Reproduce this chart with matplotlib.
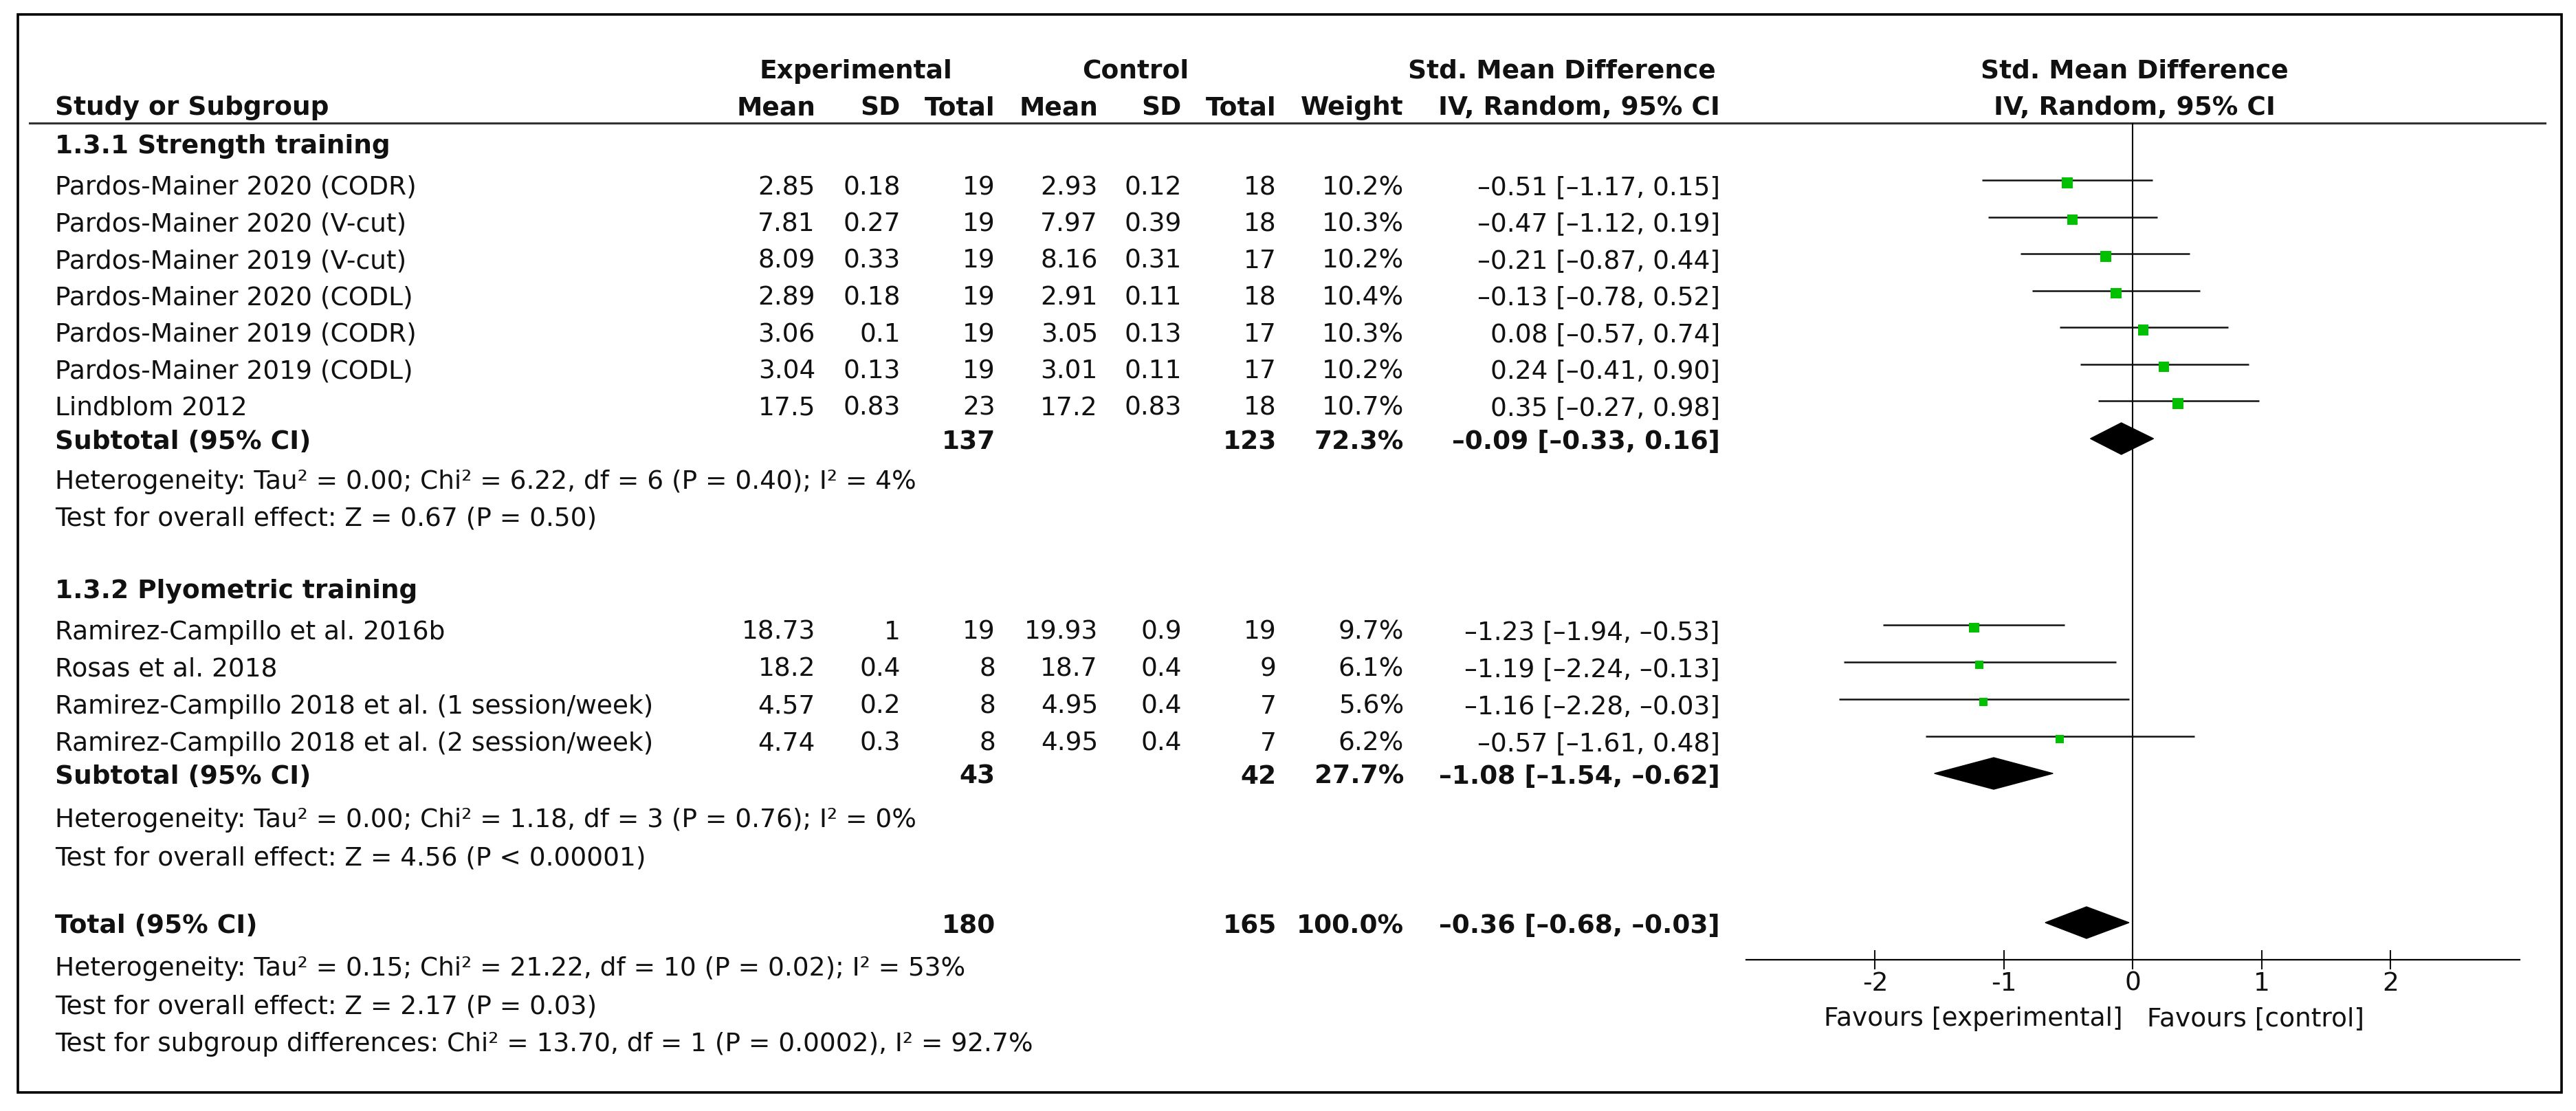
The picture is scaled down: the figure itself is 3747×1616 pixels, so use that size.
import matplotlib
matplotlib.use('Agg')
import matplotlib.pyplot as plt
from matplotlib.patches import Polygon, Rectangle

plt.rcParams['font.family'] = 'DejaVu Sans'
plt.rcParams['axes.unicode_minus'] = False

# --- data -------------------------------------------------------------
g1_title = '1.3.1 Strength training'
g1_names = ['Pardos-Mainer 2020 (CODR)', 'Pardos-Mainer 2020 (V-cut)',
            'Pardos-Mainer 2019 (V-cut)', 'Pardos-Mainer 2020 (CODL)',
            'Pardos-Mainer 2019 (CODR)', 'Pardos-Mainer 2019 (CODL)',
            'Lindblom 2012']
g1_exp_mean = ['2.85', '7.81', '8.09', '2.89', '3.06', '3.04', '17.5']
g1_exp_sd = ['0.18', '0.27', '0.33', '0.18', '0.1', '0.13', '0.83']
g1_exp_n = [19, 19, 19, 19, 19, 19, 23]
g1_ctl_mean = ['2.93', '7.97', '8.16', '2.91', '3.05', '3.01', '17.2']
g1_ctl_sd = ['0.12', '0.39', '0.31', '0.11', '0.13', '0.11', '0.83']
g1_ctl_n = [18, 18, 17, 18, 17, 17, 18]
g1_weight = [10.2, 10.3, 10.2, 10.4, 10.3, 10.2, 10.7]
g1_smd = [-0.51, -0.47, -0.21, -0.13, 0.08, 0.24, 0.35]
g1_lo = [-1.17, -1.12, -0.87, -0.78, -0.57, -0.41, -0.27]
g1_hi = [0.15, 0.19, 0.44, 0.52, 0.74, 0.90, 0.98]
g1_sub = [-0.09, -0.33, 0.16]
g1_sub_n = [137, 123]
g1_sub_weight = 72.3
g1_het = 'Heterogeneity: Tau² = 0.00; Chi² = 6.22, df = 6 (P = 0.40); I² = 4%'
g1_test = 'Test for overall effect: Z = 0.67 (P = 0.50)'

g2_title = '1.3.2 Plyometric training'
g2_names = ['Ramirez-Campillo et al. 2016b', 'Rosas et al. 2018',
            'Ramirez-Campillo 2018 et al. (1 session/week)',
            'Ramirez-Campillo 2018 et al. (2 session/week)']
g2_exp_mean = ['18.73', '18.2', '4.57', '4.74']
g2_exp_sd = ['1', '0.4', '0.2', '0.3']
g2_exp_n = [19, 8, 8, 8]
g2_ctl_mean = ['19.93', '18.7', '4.95', '4.95']
g2_ctl_sd = ['0.9', '0.4', '0.4', '0.4']
g2_ctl_n = [19, 9, 7, 7]
g2_weight = [9.7, 6.1, 5.6, 6.2]
g2_smd = [-1.23, -1.19, -1.16, -0.57]
g2_lo = [-1.94, -2.24, -2.28, -1.61]
g2_hi = [-0.53, -0.13, -0.03, 0.48]
g2_sub = [-1.08, -1.54, -0.62]
g2_sub_n = [43, 42]
g2_sub_weight = 27.7
g2_het = 'Heterogeneity: Tau² = 0.00; Chi² = 1.18, df = 3 (P = 0.76); I² = 0%'
g2_test = 'Test for overall effect: Z = 4.56 (P < 0.00001)'

total = [-0.36, -0.68, -0.03]
total_n = [180, 165]
total_weight = 100.0
total_notes = ['Heterogeneity: Tau² = 0.15; Chi² = 21.22, df = 10 (P = 0.02); I² = 53%',
               'Test for overall effect: Z = 2.17 (P = 0.03)',
               'Test for subgroup differences: Chi² = 13.70, df = 1 (P = 0.0002), I² = 92.7%']

xticks = [-2, -1, 0, 1, 2]

# --- layout (pixels) ---------------------------------------------------
W, H = 3748, 1616
FS = 27
CAP = 15  # half cap height, centre -> baseline
col_x = {'em': 1186, 'esd': 1310, 'en': 1448, 'cm': 1597, 'csd': 1719,
         'cn': 1857, 'w': 2042, 'ci': 2502}
name_x = 80

g1_head_y = 208
g1_rows_y = [268 + 53.5 * i for i in range(len(g1_names))]
g1_sub_y = 638
g1_notes_y = [696, 750]
g2_head_y = 855
g2_rows_y = [915 + 54 * i for i in range(len(g2_names))]
g2_sub_y = 1125
g2_notes_y = [1188, 1243]
tot_y = 1342
tot_notes_y = [1404, 1459, 1514]

rule_y = 179
axis_y = 1396
ax_left, ax_right = 2540, 3665
px_per_unit = (ax_right - ax_left) / 6.0


def dash(s):
    return s.replace('-', '\u2013')


def ci_text(e, lo, hi):
    return dash(f'{e:.2f} [{lo:.2f}, {hi:.2f}]')


fig = plt.figure(figsize=(W / 100, H / 100), dpi=100)
ax = fig.add_axes([0, 0, 1, 1])
ax.set_xlim(0, W)
ax.set_ylim(H, 0)
ax.axis('off')


def txt(x, yc, s, ha='left', bold=False):
    ax.text(x, yc + CAP, s, ha=ha, va='baseline', fontsize=FS,
            fontweight='bold' if bold else 'normal', color='#111111')


# frame and header rule
ax.add_patch(Rectangle((26, 21), 3700, 1568, fill=False, lw=2.6, ec='black'))
ax.plot([43, 3702], [rule_y, rule_y], color='#333333', lw=2.2)

# headers
txt(1245, 99, 'Experimental', ha='center', bold=True)
txt(1652, 99, 'Control', ha='center', bold=True)
txt(2272, 99, 'Std. Mean Difference', ha='center', bold=True)
txt(3105, 99, 'Std. Mean Difference', ha='center', bold=True)
txt(name_x, 152, 'Study or Subgroup', bold=True)
for key, lab in [('em', 'Mean'), ('esd', 'SD'), ('en', 'Total'), ('cm', 'Mean'),
                 ('csd', 'SD'), ('cn', 'Total'), ('w', 'Weight'),
                 ('ci', 'IV, Random, 95% CI')]:
    txt(col_x[key], 152, lab, ha='right', bold=True)
txt(3105, 152, 'IV, Random, 95% CI', ha='center', bold=True)


def study_rows(names, em, esd, en, cm, csd, cn, w, smd, lo, hi, ys):
    for i, y in enumerate(ys):
        txt(name_x, y, names[i])
        txt(col_x['em'], y, em[i], ha='right')
        txt(col_x['esd'], y, esd[i], ha='right')
        txt(col_x['en'], y, str(en[i]), ha='right')
        txt(col_x['cm'], y, cm[i], ha='right')
        txt(col_x['csd'], y, csd[i], ha='right')
        txt(col_x['cn'], y, str(cn[i]), ha='right')
        txt(col_x['w'], y, f'{w[i]:.1f}%', ha='right')
        txt(col_x['ci'], y, ci_text(smd[i], lo[i], hi[i]), ha='right')


def summary_row(label, y, est, n, w):
    txt(name_x, y, label, bold=True)
    txt(col_x['en'], y, str(n[0]), ha='right', bold=True)
    txt(col_x['cn'], y, str(n[1]), ha='right', bold=True)
    txt(col_x['w'], y, f'{w:.1f}%', ha='right', bold=True)
    txt(col_x['ci'], y, ci_text(*est), ha='right', bold=True)


txt(name_x, g1_head_y, g1_title, bold=True)
study_rows(g1_names, g1_exp_mean, g1_exp_sd, g1_exp_n, g1_ctl_mean, g1_ctl_sd,
           g1_ctl_n, g1_weight, g1_smd, g1_lo, g1_hi, g1_rows_y)
summary_row('Subtotal (95% CI)', g1_sub_y, g1_sub, g1_sub_n, g1_sub_weight)
txt(name_x, g1_notes_y[0], g1_het)
txt(name_x, g1_notes_y[1], g1_test)

txt(name_x, g2_head_y, g2_title, bold=True)
study_rows(g2_names, g2_exp_mean, g2_exp_sd, g2_exp_n, g2_ctl_mean, g2_ctl_sd,
           g2_ctl_n, g2_weight, g2_smd, g2_lo, g2_hi, g2_rows_y)
summary_row('Subtotal (95% CI)', g2_sub_y, g2_sub, g2_sub_n, g2_sub_weight)
txt(name_x, g2_notes_y[0], g2_het)
txt(name_x, g2_notes_y[1], g2_test)

summary_row('Total (95% CI)', tot_y, total, total_n, total_weight)
for s, y in zip(total_notes, tot_notes_y):
    txt(name_x, y, s)

# --- forest panel ------------------------------------------------------
fax = fig.add_axes([ax_left / W, (H - axis_y) / H, (ax_right - ax_left) / W,
                    (axis_y - rule_y) / H])
fax.set_xlim(-3, 3)
fax.set_ylim(axis_y, rule_y)
fax.patch.set_alpha(0)
for side in ['left', 'right', 'top']:
    fax.spines[side].set_visible(False)
fax.spines['bottom'].set_linewidth(1.6)
fax.set_yticks([])
fax.set_xticks(xticks)
fax.tick_params(axis='x', direction='inout', length=20, width=1.5,
                labelsize=FS, pad=2, colors='#111111')
fax.axvline(0, color='black', lw=1.5, zorder=1)

for smd, lo, hi, w, ys in [(g1_smd, g1_lo, g1_hi, g1_weight, g1_rows_y),
                           (g2_smd, g2_lo, g2_hi, g2_weight, g2_rows_y)]:
    yl = [y - 6 for y in ys]
    fax.hlines(yl, lo, hi, color='#111111', lw=1.8, zorder=2)
    for e, wt, y in zip(smd, w, yl):
        side = 4.8 * wt ** 0.5  # square side in px, area ~ weight
        fax.add_patch(Rectangle((e - side / 2 / px_per_unit, y + 4 - side / 2),
                                side / px_per_unit, side, color='#00c000',
                                lw=0, zorder=3))

for est, y in [(g1_sub, g1_sub_y), (g2_sub, g2_sub_y), (total, tot_y)]:
    e, lo, hi = est
    fax.add_patch(Polygon([(lo, y), (e, y - 23), (hi, y), (e, y + 23)],
                          closed=True, color='black', zorder=3, clip_on=False))

fax.text(-0.08, 1492, 'Favours [experimental]', ha='right', va='baseline',
         fontsize=FS, color='#111111', clip_on=False)
fax.text(0.107, 1492, 'Favours [control]', ha='left', va='baseline',
         fontsize=FS, color='#111111', clip_on=False)

fig.savefig('out.png', dpi=100, facecolor='white')
